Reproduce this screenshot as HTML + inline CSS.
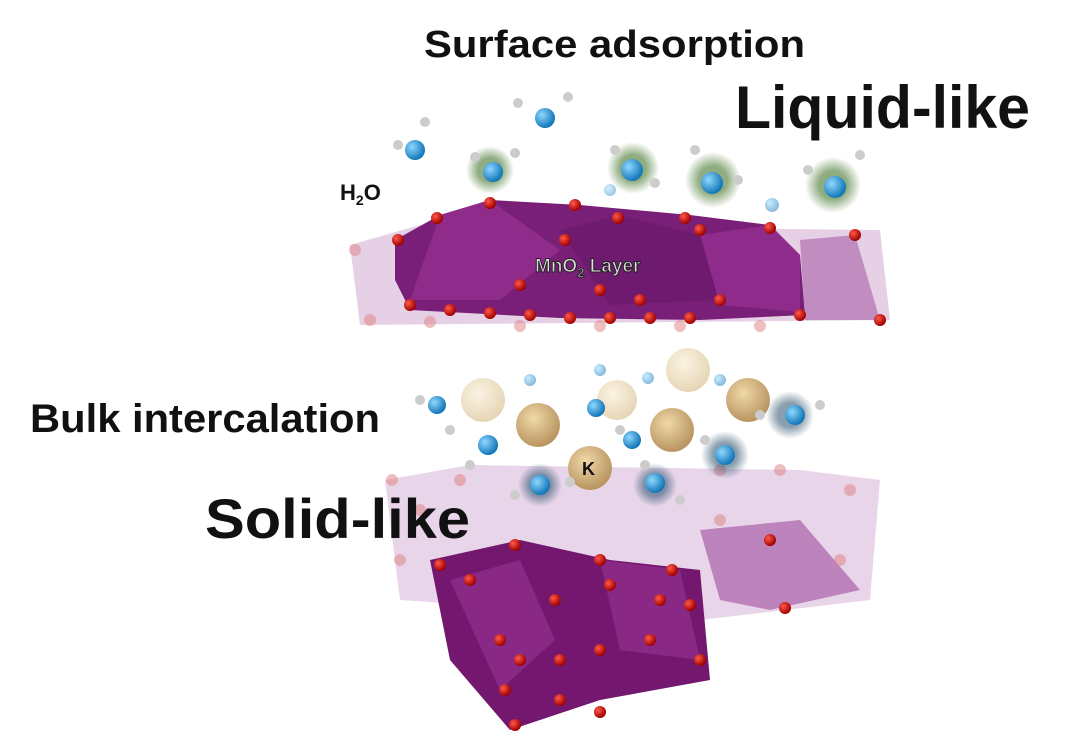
<!DOCTYPE html>
<html><head><meta charset="utf-8"><style>
html,body{margin:0;padding:0;background:#fff;width:1080px;height:750px;overflow:hidden}
svg{display:block}
text{font-family:"Liberation Sans",Arial,sans-serif;font-weight:bold}
</style></head><body>
<svg width="1080" height="750" viewBox="0 0 1080 750">
<defs>
<radialGradient id="k" cx="40%" cy="35%" r="65%"><stop offset="0" stop-color="#f0d9a8"/><stop offset="1" stop-color="#b89460"/></radialGradient>
<radialGradient id="kf" cx="40%" cy="35%" r="65%"><stop offset="0" stop-color="#fbf3e2"/><stop offset="1" stop-color="#e6d6b6"/></radialGradient>
<radialGradient id="o" cx="35%" cy="35%" r="65%"><stop offset="0" stop-color="#ff5a4a"/><stop offset="1" stop-color="#a00000"/></radialGradient>
<radialGradient id="w" cx="35%" cy="35%" r="65%"><stop offset="0" stop-color="#8fd8ff"/><stop offset="1" stop-color="#1377b8"/></radialGradient>
<radialGradient id="g" cx="50%" cy="50%" r="50%"><stop offset="0.5" stop-color="#5f8a4a" stop-opacity=".7"/><stop offset="1" stop-color="#5f8a4a" stop-opacity="0"/></radialGradient>
<radialGradient id="b" cx="50%" cy="50%" r="50%"><stop offset="0.5" stop-color="#3b5e78" stop-opacity=".6"/><stop offset="1" stop-color="#3b5e78" stop-opacity="0"/></radialGradient>
</defs>

<polygon points="350,245 420,225 880,230 890,320 360,325" fill="#c896c8" opacity=".45"/>
<polygon points="395,240 440,215 490,200 580,205 690,215 770,225 800,255 805,315 700,320 560,318 410,310 395,280" fill="#7a1f78"/>
<polygon points="440,215 490,200 560,250 500,300 410,300" fill="#8e2b8b"/>
<polygon points="560,230 620,215 700,235 720,300 610,305" fill="#6e1a6e"/>
<polygon points="700,235 770,225 800,255 800,312 720,305" fill="#8e2b8b"/>
<polygon points="800,240 855,235 880,320 805,320" fill="#b070b0" opacity=".7"/>
<g fill="url(#o)">
<circle cx="437" cy="218" r="6"/><circle cx="490" cy="203" r="6"/><circle cx="575" cy="205" r="6"/><circle cx="618" cy="218" r="6"/><circle cx="685" cy="218" r="6"/><circle cx="700" cy="230" r="6"/><circle cx="770" cy="228" r="6"/><circle cx="855" cy="235" r="6"/>
<circle cx="398" cy="240" r="6"/><circle cx="565" cy="240" r="6"/><circle cx="520" cy="285" r="6"/><circle cx="600" cy="290" r="6"/><circle cx="640" cy="300" r="6"/><circle cx="720" cy="300" r="6"/>
<circle cx="410" cy="305" r="6"/><circle cx="450" cy="310" r="6"/><circle cx="490" cy="313" r="6"/><circle cx="530" cy="315" r="6"/><circle cx="570" cy="318" r="6"/><circle cx="610" cy="318" r="6"/><circle cx="650" cy="318" r="6"/><circle cx="690" cy="318" r="6"/><circle cx="800" cy="315" r="6"/><circle cx="880" cy="320" r="6"/>
</g>
<g fill="#e08080" opacity=".5"><circle cx="370" cy="320" r="6"/><circle cx="430" cy="322" r="6"/><circle cx="520" cy="326" r="6"/><circle cx="600" cy="326" r="6"/><circle cx="680" cy="326" r="6"/><circle cx="760" cy="326" r="6"/><circle cx="355" cy="250" r="6"/></g>
<text x="535" y="272" font-size="19" fill="#ddd" stroke="#222" stroke-width="1">MnO<tspan font-size="13" dy="5">2</tspan><tspan dy="-5"> Layer</tspan></text>

<circle cx="490" cy="170" r="24" fill="url(#g)"/><circle cx="633" cy="168" r="26" fill="url(#g)"/><circle cx="713" cy="180" r="28" fill="url(#g)"/><circle cx="833" cy="185" r="28" fill="url(#g)"/>
<g fill="#ccc">
<circle cx="398" cy="145" r="5"/><circle cx="425" cy="122" r="5"/><circle cx="518" cy="103" r="5"/><circle cx="568" cy="97" r="5"/><circle cx="475" cy="157" r="5"/><circle cx="515" cy="153" r="5"/><circle cx="615" cy="150" r="5"/><circle cx="655" cy="183" r="5"/><circle cx="695" cy="150" r="5"/><circle cx="738" cy="180" r="5"/><circle cx="808" cy="170" r="5"/><circle cx="860" cy="155" r="5"/>
</g>
<g fill="url(#w)">
<circle cx="415" cy="150" r="10"/><circle cx="545" cy="118" r="10"/><circle cx="493" cy="172" r="10"/><circle cx="632" cy="170" r="11"/><circle cx="712" cy="183" r="11"/><circle cx="835" cy="187" r="11"/>
<circle cx="610" cy="190" r="6" opacity=".4"/><circle cx="772" cy="205" r="7" opacity=".5"/>
</g>

<polygon points="385,480 470,465 800,470 880,480 870,600 700,620 400,600" fill="#c897c8" opacity=".4"/>
<polygon points="430,560 520,540 610,560 700,570 710,680 600,700 510,730 450,660" fill="#74186f"/>
<polygon points="450,580 520,560 555,640 500,690" fill="#8a2886"/>
<polygon points="600,560 680,570 700,660 620,650" fill="#8a2886"/>
<polygon points="700,530 800,520 860,590 770,610 720,600" fill="#a860a8" opacity=".7"/>
<g fill="#e08080" opacity=".5"><circle cx="392" cy="480" r="6"/><circle cx="420" cy="510" r="6"/><circle cx="400" cy="560" r="6"/><circle cx="460" cy="480" r="6"/><circle cx="720" cy="470" r="6"/><circle cx="780" cy="470" r="6"/><circle cx="850" cy="490" r="6"/><circle cx="840" cy="560" r="6"/><circle cx="720" cy="520" r="6"/></g>
<g fill="url(#o)">
<circle cx="440" cy="565" r="6"/><circle cx="470" cy="580" r="6"/><circle cx="515" cy="545" r="6"/><circle cx="555" cy="600" r="6"/><circle cx="600" cy="560" r="6"/><circle cx="672" cy="570" r="6"/><circle cx="690" cy="605" r="6"/><circle cx="660" cy="600" r="6"/>
<circle cx="500" cy="640" r="6"/><circle cx="520" cy="660" r="6"/><circle cx="560" cy="660" r="6"/><circle cx="600" cy="650" r="6"/><circle cx="650" cy="640" r="6"/><circle cx="700" cy="660" r="6"/>
<circle cx="505" cy="690" r="6"/><circle cx="560" cy="700" r="6"/><circle cx="600" cy="712" r="6"/><circle cx="515" cy="725" r="6"/><circle cx="610" cy="585" r="6"/><circle cx="785" cy="608" r="6"/><circle cx="770" cy="540" r="6"/>
</g>

<circle cx="483" cy="400" r="22" fill="url(#kf)"/><circle cx="688" cy="370" r="22" fill="url(#kf)"/><circle cx="617" cy="400" r="20" fill="url(#kf)"/>
<circle cx="748" cy="400" r="22" fill="url(#k)"/>
<circle cx="538" cy="425" r="22" fill="url(#k)"/><circle cx="672" cy="430" r="22" fill="url(#k)"/>
<circle cx="590" cy="468" r="22" fill="url(#k)"/>
<text x="582" y="475" font-size="18" fill="#111">K</text>
<circle cx="790" cy="415" r="24" fill="url(#b)"/><circle cx="725" cy="455" r="24" fill="url(#b)"/><circle cx="540" cy="485" r="22" fill="url(#b)"/><circle cx="655" cy="485" r="22" fill="url(#b)"/>
<g fill="#ccc">
<circle cx="420" cy="400" r="5"/><circle cx="450" cy="430" r="5"/><circle cx="470" cy="465" r="5"/><circle cx="515" cy="495" r="5"/><circle cx="570" cy="482" r="5"/><circle cx="620" cy="430" r="5"/><circle cx="645" cy="465" r="5"/><circle cx="680" cy="500" r="5"/><circle cx="760" cy="415" r="5"/><circle cx="820" cy="405" r="5"/><circle cx="705" cy="440" r="5"/>
</g>
<g fill="url(#w)">
<circle cx="437" cy="405" r="9"/><circle cx="488" cy="445" r="10"/><circle cx="540" cy="485" r="10"/><circle cx="632" cy="440" r="9"/><circle cx="655" cy="483" r="10"/><circle cx="725" cy="455" r="10"/><circle cx="795" cy="415" r="10"/><circle cx="596" cy="408" r="9"/>
<circle cx="530" cy="380" r="6" opacity=".5"/><circle cx="600" cy="370" r="6" opacity=".5"/><circle cx="648" cy="378" r="6" opacity=".5"/><circle cx="720" cy="380" r="6" opacity=".5"/>
</g>

<text x="424" y="57" font-size="38" fill="#111" textLength="381" lengthAdjust="spacingAndGlyphs">Surface adsorption</text>
<text x="735" y="128" font-size="60" fill="#111" textLength="295" lengthAdjust="spacingAndGlyphs">Liquid-like</text>
<text x="340" y="200" font-size="22" fill="#111">H<tspan font-size="14" dy="5">2</tspan><tspan dy="-5">O</tspan></text>
<text x="30" y="432" font-size="40" fill="#111" textLength="350" lengthAdjust="spacingAndGlyphs">Bulk intercalation</text>
<text x="205" y="538" font-size="56" fill="#111" textLength="265" lengthAdjust="spacingAndGlyphs">Solid-like</text>
</svg>
</body></html>
